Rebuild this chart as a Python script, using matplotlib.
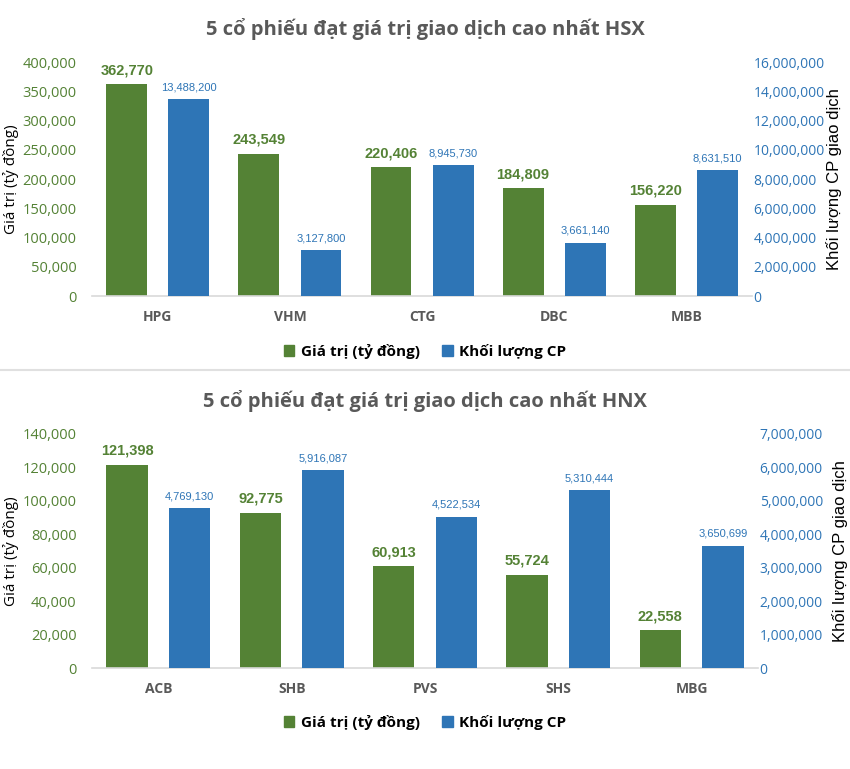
import numpy as np
import matplotlib.pyplot as plt
from matplotlib.patches import Patch
from matplotlib.ticker import FuncFormatter

# --- Dữ liệu ---
hsx_codes = ["HPG", "VHM", "CTG", "DBC", "MBB"]
hsx_value = [362770, 243549, 220406, 184809, 156220]
hsx_volume = [13488200, 3127800, 8945730, 3661140, 8631510]

hnx_codes = ["ACB", "SHB", "PVS", "SHS", "MBG"]
hnx_value = [121398, 92775, 60913, 55724, 22558]
hnx_volume = [4769130, 5916087, 4522534, 5310444, 3650699]

GREEN = "#548235"
BLUE = "#2E75B6"
GRAY = "#595959"
ARIAL = ["Liberation Sans", "DejaVu Sans"]

plt.rcParams["font.family"] = ["Open Sans", "DejaVu Sans"]

comma = FuncFormatter(lambda v, p: f"{v:,.0f}")


def draw_panel(fig, rect, title, codes, values, volumes, vmax, volmax, vstep, volstep, leg_y):
    ax = fig.add_axes(rect)
    ax2 = ax.twinx()
    x = np.arange(len(codes))
    w = 0.31
    off = 0.235
    width_px = rect[2] * 850

    b1 = ax.bar(x - off, values, w, color=GREEN)
    b2 = ax2.bar(x + off, volumes, w, color=BLUE)

    ax.set_xlim(-0.5, len(codes) - 0.5)
    ax.set_ylim(0, vmax)
    ax2.set_ylim(0, volmax)
    ax.set_yticks(np.arange(0, vmax + 1, vstep))
    ax2.set_yticks(np.arange(0, volmax + 1, volstep))
    ax.yaxis.set_major_formatter(comma)
    ax2.yaxis.set_major_formatter(comma)

    for a in (ax, ax2):
        for s in a.spines.values():
            s.set_visible(False)
        a.tick_params(length=0)
    ax.spines["bottom"].set_visible(True)
    ax.spines["bottom"].set_color("#D9D9D9")
    ax.spines["bottom"].set_linewidth(1.2)

    ax.tick_params(axis="y", colors=GREEN, labelsize=10.5, pad=11)
    ax2.tick_params(axis="y", colors=BLUE, labelsize=10, pad=1)
    ax.set_xticks(x)
    ax.set_xticklabels(codes, color=GRAY, fontweight="bold", fontsize=10)
    ax.tick_params(axis="x", pad=10)

    ax.set_ylabel("Giá trị (tỷ đồng)", fontsize=11, color="black")
    ax2.set_ylabel("Khối lượng CP giao dịch", fontsize=12, color="black", family=ARIAL)
    ax.yaxis.set_label_coords(-73 / width_px, 0.5)
    ax2.yaxis.set_label_coords(1 + 74 / width_px, 0.5)

    for r, v in zip(b1, values):
        ax.annotate(f"{v:,}", (r.get_x() + r.get_width() / 2, v), xytext=(0, 5),
                    textcoords="offset points", ha="center", va="bottom",
                    color=GREEN, fontweight="bold", fontsize=10.5, family=ARIAL)
    for r, v in zip(b2, volumes):
        ax2.annotate(f"{v:,}", (r.get_x() + r.get_width() / 2, v), xytext=(0, 5),
                     textcoords="offset points", ha="center", va="bottom",
                     color=BLUE, fontsize=8, family=ARIAL)

    fig.text(0.5, rect[1] + rect[3] + 0.043, title, ha="center", va="center",
             fontsize=14.5, fontweight="bold", color=GRAY)

    handles = [Patch(color=GREEN, label="Giá trị (tỷ đồng)"),
               Patch(color=BLUE, label="Khối lượng CP")]
    fig.legend(handles=handles, loc="center", bbox_to_anchor=(0.5, leg_y), ncol=2,
               frameon=False, handlelength=0.7, handleheight=0.7, handletextpad=0.4,
               columnspacing=1.5, prop={"weight": "bold", "size": 11})


fig = plt.figure(figsize=(8.5, 7.69), dpi=100)

draw_panel(fig, [0.108, 0.615, 0.777, 0.304],
           "5 cổ phiếu đạt giá trị giao dịch cao nhất HSX",
           hsx_codes, hsx_value, hsx_volume, 400000, 16000000, 50000, 2000000, 0.543)
draw_panel(fig, [0.108, 0.131, 0.784, 0.305],
           "5 cổ phiếu đạt giá trị giao dịch cao nhất HNX",
           hnx_codes, hnx_value, hnx_volume, 140000, 7000000, 20000, 1000000, 0.061)

fig.add_artist(plt.Line2D([0, 1], [1 - 370 / 769, 1 - 370 / 769], color="#E0E0E0", lw=1.5))

fig.savefig("out.png", dpi=100)
